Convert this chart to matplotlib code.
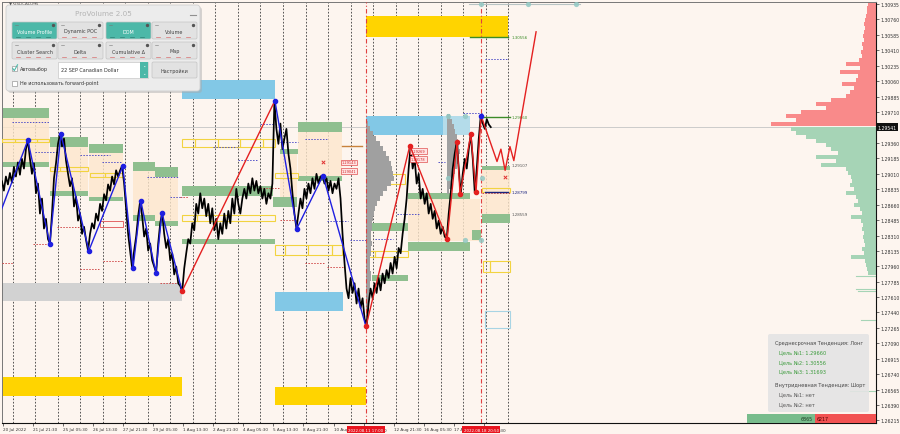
import numpy as np
import matplotlib.pyplot as plt
from matplotlib.patches import Rectangle, FancyBboxPatch

plt.rcParams['font.family'] = ['DejaVu Sans']

# x axis: one unit = one time label step (32 trading hours); y axis: USDCAD price
# labels partly hidden behind the red cursor boxes keep only their visible part
time_labels = ['20 Jul 2022', '21 Jul 21:30', '25 Jul 05:30', '26 Jul 13:30', '27 Jul 21:30',
               '29 Jul 05:30', '1 Aug 13:30', '2 Aug 21:30', '4 Aug 05:30', '5 Aug 13:30',
               '8 Aug 21:30', '10 Aug', '', '12 Aug 21:30', '16 Aug 05:30',
               '17 A', '']
label_tails = [(12.68, '0'), (16.52, ':30')]
marked_times = [(12.08, '2022.08.11 17:00'), (15.91, '2022.08.18 20:50')]
price_ticks = [1.30935, 1.30760, 1.30585, 1.30410, 1.30235, 1.30060, 1.29885, 1.29710,
               1.29360, 1.29185, 1.29010, 1.28835, 1.28660, 1.28485, 1.28310, 1.28135,
               1.27960, 1.27785, 1.27610, 1.27440, 1.27265, 1.27090, 1.26915, 1.26740,
               1.26565, 1.26390, 1.26215]
last_price = 1.29541

# closes, one every 1/15 of a label step starting at -0.1
path_price = [
    1.2884, 1.2893, 1.2882, 1.2898, 1.2889, 1.2902, 1.2891, 1.2909, 1.2898, 1.2914,
    1.2900, 1.2918, 1.2907, 1.2929, 1.2939, 1.2918, 1.2901, 1.2913, 1.2879, 1.2890,
    1.2856, 1.2873, 1.2839, 1.2850, 1.2827, 1.2822, 1.2856, 1.2896, 1.2913, 1.2935,
    1.2946, 1.2932, 1.2941, 1.2916, 1.2901, 1.2887, 1.2896, 1.2864, 1.2875, 1.2848,
    1.2856, 1.2833, 1.2841, 1.2826, 1.2814, 1.2833, 1.2845, 1.2839, 1.2856, 1.2848,
    1.2867, 1.2859, 1.2878, 1.2871, 1.2889, 1.2882, 1.2898, 1.2889, 1.2905, 1.2898,
    1.2905, 1.2910, 1.2890, 1.2862, 1.2833, 1.2814, 1.2794, 1.2814, 1.2830, 1.2853,
    1.2870, 1.2853, 1.2830, 1.2839, 1.2814, 1.2822, 1.2803, 1.2796, 1.2789, 1.2822,
    1.2845, 1.2857, 1.2833, 1.2817, 1.2827, 1.2803, 1.2811, 1.2787, 1.2796, 1.2777,
    1.2774, 1.2768, 1.2794, 1.2811, 1.2827, 1.2822, 1.2845, 1.2837, 1.2867, 1.2856,
    1.2879, 1.2862, 1.2873, 1.2853, 1.2867, 1.2845, 1.2862, 1.2837, 1.2850, 1.2827,
    1.2845, 1.2833, 1.2856, 1.2839, 1.2859, 1.2845, 1.2873, 1.2856, 1.2884, 1.2867,
    1.2856, 1.2873, 1.2884, 1.2873, 1.2890, 1.2879, 1.2896, 1.2882, 1.2893, 1.2879,
    1.2887, 1.2873, 1.2884, 1.2867, 1.2879, 1.2873, 1.2890, 1.2984, 1.2952, 1.2935,
    1.2958, 1.2929, 1.2941, 1.2952, 1.2924, 1.2907, 1.2879, 1.2856, 1.2839, 1.2856,
    1.2873, 1.2862, 1.2884, 1.2873, 1.2890, 1.2879, 1.2896, 1.2884, 1.2901, 1.2890,
    1.2898, 1.2899, 1.2890, 1.2896, 1.2882, 1.2893, 1.2879, 1.2890, 1.2884, 1.2896,
    1.2873, 1.2833, 1.2800, 1.2771, 1.2760, 1.2783, 1.2766, 1.2777, 1.2754, 1.2771,
    1.2749, 1.2760, 1.2737, 1.2728, 1.2754, 1.2771, 1.2760, 1.2777, 1.2766, 1.2783,
    1.2769, 1.2788, 1.2777, 1.2792, 1.2783, 1.2800, 1.2788, 1.2807, 1.2794, 1.2817,
    1.2811, 1.2833, 1.2850, 1.2873, 1.2907, 1.2933, 1.2907, 1.2918, 1.2890, 1.2901,
    1.2873, 1.2884, 1.2867, 1.2879, 1.2856, 1.2867, 1.2850, 1.2859, 1.2839, 1.2848,
    1.2833, 1.2841, 1.2830, 1.2827, 1.2856, 1.2879, 1.2907, 1.2924, 1.2937, 1.2907,
    1.2878, 1.2901, 1.2918, 1.2907, 1.2929, 1.2946, 1.2918, 1.2880, 1.2907, 1.2941,
    1.2967, 1.2958, 1.2952, 1.2963, 1.2957, 1.2954]

# zigzag swings
blue_zz_x = [-0.10, 0.83, 1.56, 1.93, 2.86, 3.99, 4.33, 4.59, 5.09, 5.29, 5.96]
blue_zz_p = [1.2856, 1.2939, 1.2822, 1.2946, 1.2814, 1.2910, 1.2794, 1.2870, 1.2789, 1.2857, 1.2768]
blue2_x = [9.05, 9.78, 10.65, 12.08]
blue2_p = [1.2984, 1.2839, 1.2899, 1.2728]
red_zz_x = [5.96, 9.05]
red_zz_p = [1.2768, 1.2984]
red2_x = [12.08, 13.54, 14.78, 15.11, 15.21, 15.57, 15.74, 15.91]
red2_p = [1.2728, 1.2933, 1.2827, 1.2937, 1.2878, 1.2946, 1.2880, 1.2967]
forecast_x = [15.91, 16.44, 16.57, 16.71, 16.87, 17.00, 17.74]
forecast_p = [1.2967, 1.2915, 1.2929, 1.2905, 1.2932, 1.2916, 1.3062]

# zones: (x0, x1, low, high)
blue_zones = [(5.96, 9.05, 1.2986, 1.3007), (9.05, 11.31, 1.2745, 1.2767),
              (12.08, 14.65, 1.2945, 1.2967)]
pale_blue_zones = [(14.65, 15.54, 1.2945, 1.2967)]
gold_zones = [(12.08, 16.81, 1.3056, 1.3080), (-0.1, 5.96, 1.2649, 1.2671),
              (9.05, 12.08, 1.2639, 1.2659)]
gray_zones = [(-0.1, 5.96, 1.2757, 1.2777)]
green_zones = [
    (-0.03, 1.53, 1.2964, 1.2976), (-0.03, 1.53, 1.2909, 1.2915),
    (1.56, 2.83, 1.2932, 1.2943), (1.56, 2.83, 1.2876, 1.2882),
    (2.86, 3.99, 1.2925, 1.2935), (2.86, 3.99, 1.2870, 1.2875),
    (4.33, 5.06, 1.2904, 1.2915), (5.06, 5.82, 1.2898, 1.2909),
    (4.33, 5.06, 1.2848, 1.2854), (5.06, 5.82, 1.2842, 1.2848),
    (5.96, 8.98, 1.2876, 1.2887), (5.96, 9.05, 1.2821, 1.2827),
    (8.98, 9.78, 1.2864, 1.2875), (9.22, 9.82, 1.2924, 1.2929),
    (9.82, 11.28, 1.2949, 1.2960), (9.82, 11.28, 1.2893, 1.2899),
    (12.11, 13.48, 1.2836, 1.2845), (12.28, 13.48, 1.2780, 1.2786),
    (13.48, 15.54, 1.2873, 1.2879), (13.48, 15.54, 1.2814, 1.2824),
    (15.61, 15.91, 1.2826, 1.2837), (15.94, 16.87, 1.2905, 1.2910),
    (15.94, 16.87, 1.2845, 1.2856)]
peach_zones = [
    (-0.03, 1.53, 1.2915, 1.2964), (1.56, 2.83, 1.2882, 1.2932),
    (2.86, 3.99, 1.2875, 1.2925), (4.33, 5.82, 1.2848, 1.2904),
    (9.22, 9.78, 1.2875, 1.2924), (9.82, 11.28, 1.2899, 1.2949),
    (13.48, 15.87, 1.2825, 1.2873), (15.94, 16.87, 1.2856, 1.2905)]
gold_cells = [
    (-0.03, 0.40, 1.2937, 1.2941), (0.40, 1.13, 1.2937, 1.2941), (1.13, 1.53, 1.2937, 1.2941),
    (1.56, 1.90, 1.2904, 1.2909), (1.90, 2.83, 1.2904, 1.2909),
    (2.90, 3.39, 1.2897, 1.2902), (3.39, 3.99, 1.2897, 1.2902),
    (5.96, 6.39, 1.2931, 1.2941), (6.39, 7.15, 1.2931, 1.2941), (7.15, 7.89, 1.2931, 1.2941),
    (7.89, 8.65, 1.2931, 1.2941), (8.65, 9.05, 1.2931, 1.2941),
    (5.96, 6.46, 1.2847, 1.2854), (6.46, 9.05, 1.2847, 1.2854),
    (9.05, 9.82, 1.2896, 1.2902),
    (9.05, 9.38, 1.2809, 1.2820), (9.38, 10.15, 1.2809, 1.2820), (10.15, 10.95, 1.2809, 1.2820),
    (10.95, 11.28, 1.2809, 1.2820),
    (12.11, 12.38, 1.2807, 1.2814), (12.38, 13.48, 1.2807, 1.2814),
    (12.38, 13.38, 1.2890, 1.2901),
    (15.94, 16.87, 1.2881, 1.2885),
    (15.97, 16.21, 1.2790, 1.2802), (16.21, 16.87, 1.2790, 1.2802)]
blue_cells = [(16.04, 16.87, 1.2726, 1.2746)]
red_cells = [(3.23, 3.99, 1.2841, 1.2847)]

# short dotted levels: (x0, x1, price)
blue_levels = [
    (0.30, 1.53, 1.2960), (1.06, 1.80, 1.2926), (2.56, 3.56, 1.2922), (3.29, 3.96, 1.2915),
    (4.79, 5.82, 1.2897), (5.56, 5.96, 1.2875), (7.82, 8.49, 1.2917), (6.99, 7.79, 1.2932),
    (8.55, 9.05, 1.2958), (9.22, 9.82, 1.2937), (10.05, 10.78, 1.2941), (10.78, 11.48, 1.2848),
    (11.55, 12.21, 1.2826), (12.38, 12.98, 1.2827), (13.11, 13.88, 1.2856), (14.48, 14.71, 1.2915),
    (15.31, 15.94, 1.2970), (16.04, 16.77, 1.3031)]
red_levels = [
    (1.00, 1.56, 1.2821), (1.80, 2.56, 1.2841), (3.33, 3.96, 1.2802), (2.56, 3.23, 1.2793),
    (-0.03, 0.33, 1.2800), (5.22, 5.82, 1.2777), (8.55, 9.22, 1.2885), (9.22, 9.78, 1.2849),
    (5.89, 6.16, 1.2875), (10.05, 10.72, 1.2800), (10.78, 11.31, 1.2795), (15.94, 16.87, 1.2879)]

target_lines = [(15.54, 16.81, 1.30556, '#3c8c28'), (15.91, 16.87, 1.29660, '#3c8c28'),
                (16.04, 16.81, 1.28799, '#1a237e'), (11.28, 11.95, 1.2933, '#c8823c')]
level_tags = [('1.30556', 1.30556, '#3c8c28'), ('1.29660', 1.29660, '#3c8c28'),
              ('1.29107', 1.29107, '#555555'), ('1.28799', 1.28799, '#1a237e'),
              ('1.28559', 1.28559, '#555555')]
red_tags = [(11.28, 1.2914, '1.29143'), (11.28, 1.2904, '1.29041'),
            (13.58, 1.2927, '1.29269'), (13.58, 1.2918, '1.29178')]
teal_x = [15.91, 17.47, 19.07, 14.81, 15.37, 14.81, 15.94, 15.37, 15.91]
teal_p = [1.3093, 1.3093, 1.3093, 1.2967, 1.2967, 1.2896, 1.2896, 1.2826, 1.2826]
cross_x = [10.65, 16.71]
cross_p = [1.2915, 1.2898]

# right-hand market profile (widths in profile units)
sell_profile = [8, 9, 9, 10, 11, 12, 11, 12, 13, 12, 14, 13, 15, 14, 17, 30, 16, 36, 18, 20,
                34, 22, 26, 30, 45, 60, 50, 75, 90, 80, 105]
buy_profile = [85, 80, 70, 60, 50, 45, 38, 60, 40, 55, 30, 28, 25, 24, 26, 22, 30, 20, 18, 22,
               16, 14, 25, 15, 13, 14, 12, 13, 12, 11, 14, 12, 25, 11, 10, 9, 8]
buy_lines_p = [1.2785, 1.2771, 1.2768, 1.2735, 1.2655]
buy_lines_w = [20, 20, 18, 15, 26]
# session volume profiles
prof_a = [2, 4, 7, 10, 14, 17, 20, 23, 25, 26, 27, 28, 25, 21, 17, 14, 11, 9, 8, 7, 6, 6, 5, 5,
          6, 5, 5, 4, 4, 4, 5, 5, 4, 4, 3, 3, 3, 3, 2, 2, 1]
prof_b = [3, 5, 7, 8, 10, 11, 12, 13, 12, 11, 10, 8, 7, 5, 4, 2]

trend_lines = [('Среднесрочная Тенденция: Лонг', '#444444'), ('Цель №1: 1.29660', '#3a9a3a'),
               ('Цель №2: 1.30556', '#3a9a3a'), ('Цель №3: 1.31693', '#3a9a3a'),
               ('Внутридневная Тенденция: Шорт', '#444444'), ('Цель №1: нет', '#555555'),
               ('Цель №2: нет', '#555555')]
buy_total = 6865
sell_total = 6217

bg = '#fdf5ef'
fig = plt.figure(figsize=(9, 4.35), dpi=100, facecolor=bg)
ax = fig.add_axes([2 / 900, 11 / 435, 874 / 900, 421 / 435], facecolor=bg)
xmax = 29.05
ax.set_xlim(-0.03, xmax)
ax.set_ylim(1.26186, 1.30958)


def zone(x0, x1, lo, hi, **kw):
    ax.add_patch(Rectangle((x0, lo), x1 - x0, hi - lo, **kw))


# day separators
for gx in 0.32 + 0.75 * np.arange(23):
    ax.axvline(gx, color='#3a3a3a', lw=0.6, ls=(0, (2, 2)), zorder=0.5)
ax.axhline(last_price, color='#c4c4c4', lw=0.6, zorder=0.6)

for z in peach_zones:
    zone(*z, fc='#fde7cc', ec='none', alpha=0.8, zorder=1)
for z in green_zones:
    zone(*z, fc='#8fbf8f', ec='none', zorder=2)
for z in blue_zones:
    zone(*z, fc='#82c8e6', ec='none', zorder=2)
for z in pale_blue_zones:
    zone(*z, fc='#b4dcea', ec='none', zorder=2)
for z in gold_zones:
    zone(*z, fc='#ffd400', ec='none', zorder=2)
for z in gray_zones:
    zone(*z, fc='#d2d2d2', ec='none', zorder=2)
for z in gold_cells:
    zone(*z, fc='none', ec='#f2d340', lw=0.8, zorder=3)
for z in blue_cells:
    zone(*z, fc='none', ec='#a8d4e4', lw=0.8, zorder=3)
for z in red_cells:
    zone(*z, fc='none', ec='#e05050', lw=0.6, zorder=3)
for x0, x1, p in blue_levels:
    ax.plot([x0, x1], [p, p], color='#5050c8', lw=0.7, ls=(0, (1.5, 1.5)), zorder=3)
for x0, x1, p in red_levels:
    ax.plot([x0, x1], [p, p], color='#d04848', lw=0.7, ls=(0, (1.5, 1.5)), zorder=3)

# session profiles
step5 = 0.000567
lev_a = 1.2958 - step5 * np.arange(len(prof_a))
ax.barh(lev_a, np.array(prof_a) / 30.05, left=12.08, height=step5, color='#a0a0a0',
        edgecolor='none', zorder=3)
lev_b = 1.2966 - step5 * np.arange(len(prof_b))
ax.barh(lev_b, np.array(prof_b) / 30.05, left=14.78, height=step5, color='#a0a0a0',
        edgecolor='none', zorder=3)

# right market profile
step4 = 0.000453
lev_s = 1.3093 - step4 * np.arange(len(sell_profile))
ws = np.array(sell_profile) / 30.05
ax.barh(lev_s, ws, left=xmax - ws, height=step4, color='#f98a8a', edgecolor='none', zorder=2)
lev_g = 1.2952 - step4 * np.arange(len(buy_profile))
wg = np.array(buy_profile) / 30.05
ax.barh(lev_g, wg, left=xmax - wg, height=step4, color='#a6d4b6', edgecolor='none', zorder=2)
for p, w in zip(buy_lines_p, buy_lines_w):
    ax.plot([xmax - w / 30.05, xmax], [p, p], color='#a6d4b6', lw=0.8, zorder=2)

# price
path_x = -0.1 + np.arange(len(path_price)) / 15
ax.plot(path_x, path_price, color='black', lw=1.25, zorder=5)

for x0, x1, p, c in target_lines:
    ax.plot([x0, x1], [p, p], color=c, lw=1.0, zorder=4)
for t, p, c in level_tags:
    ax.text(16.92, p, t, fontsize=2.9, color=c, va='center', ha='left', zorder=6)
for x, p, t in red_tags:
    ax.text(x, p, t, fontsize=2.5, color='#d02020', va='center', ha='left', zorder=6,
            bbox=dict(boxstyle='square,pad=0.25', fc='#ffe4e4', ec='#e05050', lw=0.5))

ax.plot([15.5, 19.2], [1.3093, 1.3093], color='#b8c4c4', lw=0.8, zorder=3)
ax.scatter(teal_x, teal_p, s=14, color='#92c9c4', alpha=0.85, zorder=6, linewidths=0)
ax.scatter(cross_x, cross_p, s=6, marker='x', color='#e03030', linewidths=0.7, zorder=6)

# zigzags
ax.plot(blue_zz_x, blue_zz_p, color='#1f1fe0', lw=1.0, zorder=6)
ax.plot(blue2_x, blue2_p, color='#1f1fe0', lw=1.0, zorder=6)
ax.plot(red_zz_x, red_zz_p, color='#e42020', lw=1.0, zorder=6)
ax.plot(red2_x, red2_p, color='#e42020', lw=1.0, zorder=6)
ax.plot(forecast_x, forecast_p, color='#e42020', lw=1.0, zorder=6)
ax.scatter(blue_zz_x[1:-1] + blue2_x[:-1] + [red2_x[-1]],
           blue_zz_p[1:-1] + blue2_p[:-1] + [red2_p[-1]], s=9, color='#1f1fe0', zorder=7)
ax.scatter([blue_zz_x[-1]] + red2_x[:-1], [blue_zz_p[-1]] + red2_p[:-1], s=9,
           color='#e42020', zorder=7)

# axes styling
ax.yaxis.tick_right()
ax.set_yticks(price_ticks)
ax.set_yticklabels(['%.5f' % p for p in price_ticks])
ax.set_xticks(np.arange(len(time_labels)))
ax.set_xticklabels(time_labels, ha='left')
ax.tick_params(axis='y', labelsize=3.3, length=2, width=0.5, pad=1.2, colors='#333333')
ax.tick_params(axis='x', labelsize=3.0, length=2, width=0.5, pad=1.2, colors='#333333')
for s in ['left', 'top']:
    ax.spines[s].set_color('#777777')
    ax.spines[s].set_linewidth(0.7)
for s in ['right', 'bottom']:
    ax.spines[s].set_color('#111111')
    ax.spines[s].set_linewidth(0.8)
for x, t in label_tails:
    ax.text(x, -0.0115, t, transform=ax.get_xaxis_transform(), ha='left', va='top',
            fontsize=3.0, color='#333333', clip_on=False)
for x, t in marked_times:
    ax.axvline(x, color='#e04040', lw=0.8, ls=(0, (4, 2, 1, 2)), zorder=4)
    ax.text(x, -0.011, t, transform=ax.get_xaxis_transform(), ha='center', va='top',
            fontsize=2.9, color='white', zorder=20, clip_on=False,
            bbox=dict(boxstyle='square,pad=0.3', fc='#e8141e', ec='none'))
ax.text(1.002, last_price, '%.5f' % last_price, transform=ax.get_yaxis_transform(),
        fontsize=3.3, color='white', va='center', ha='left', zorder=20, clip_on=False,
        bbox=dict(boxstyle='square,pad=0.3', fc='#111111', ec='none'))

# overlay: indicator panel and info box, in pixels
ui = fig.add_axes([0, 0, 1, 1], zorder=10)
ui.set_xlim(0, 900)
ui.set_ylim(435, 0)
ui.axis('off')
ui.patch.set_alpha(0)
ui.text(9, 3.2, '▼ USDCAD,M5', fontsize=3.0, color='#555555', va='center')
ui.add_patch(FancyBboxPatch((8, 8), 194, 86, boxstyle='round,pad=0,rounding_size=3',
                            fc='#a8a8a8', ec='none', alpha=0.45))
ui.add_patch(FancyBboxPatch((6, 6), 194, 86, boxstyle='round,pad=0,rounding_size=3',
                            fc='#ececec', ec='#cfcfcf', lw=0.6))
ui.text(103, 13.5, 'ProVolume 2.05', ha='center', va='center', fontsize=5.2, color='#b4b4b4')
ui.plot([190, 196], [16, 16], color='#909090', lw=0.8)

teal = '#4cb8a8'
buttons = [('Volume Profile', 12, 23, True), ('Dynamic POC', 58, 23, False),
           ('DOM', 106, 23, True), ('Volume', 152, 23, False),
           ('Cluster Search', 12, 43, False), ('Delta', 58, 43, False),
           ('Cumulative Δ', 106, 43, False), ('Map', 152, 43, False)]
for label, bx, by, on in buttons:
    ui.add_patch(FancyBboxPatch((bx, by), 45, 17, boxstyle='round,pad=0,rounding_size=1.5',
                                fc=teal if on else '#e2e2e2', ec='#c4c4c4', lw=0.5))
    ui.text(bx + 22.5, by + 9, label, ha='center', va='center', fontsize=3.5,
            color='white' if on else '#404040')
    ui.scatter([bx + 41], [by + 2.6], s=2, color='#555555', zorder=3)
    ui.plot([bx + 3, bx + 6], [by + 2.6, by + 2.6], color='#777777', lw=0.4)
    for k in range(4):
        ui.plot([bx + 4 + 10 * k, bx + 8 + 10 * k], [by + 15, by + 15],
                color='#2e7f74' if on else '#d87070', lw=0.5)

ui.add_patch(Rectangle((12, 67), 5, 5, fc='white', ec='#9a9a9a', lw=0.5))
ui.plot([12.8, 14.3, 17.5], [69.5, 71.6, 65.8], color=teal, lw=0.8)
ui.text(20, 70, 'Автовыбор', fontsize=3.5, va='center', color='#333333')
ui.add_patch(Rectangle((58, 63), 90, 16, fc='white', ec='#c8c8c8', lw=0.5))
ui.add_patch(Rectangle((140, 63), 8, 16, fc=teal, ec='none'))
ui.text(144, 68, '⌃', fontsize=3.0, color='white', ha='center', va='center')
ui.text(144, 74, '⌄', fontsize=3.0, color='white', ha='center', va='center')
ui.text(61, 71, '22 SEP Canadian Dollar', fontsize=3.5, va='center', color='#333333')
ui.add_patch(FancyBboxPatch((152, 63), 45, 16, boxstyle='round,pad=0,rounding_size=1.5',
                            fc='#e2e2e2', ec='#c4c4c4', lw=0.5))
ui.text(174.5, 71, 'Настройки', fontsize=3.5, ha='center', va='center', color='#404040')
ui.add_patch(Rectangle((12, 81.5), 5, 5, fc='white', ec='#9a9a9a', lw=0.5))
ui.text(20, 84, 'Не использовать forward-point', fontsize=3.5, va='center', color='#333333')

# trend info box
ui.add_patch(FancyBboxPatch((768, 335), 101, 78, boxstyle='round,pad=0,rounding_size=2',
                            fc='#e4e4e4', ec='none', alpha=0.9))
rows_y = [344, 353, 363, 372, 386, 395, 405]
for (t, c), yy in zip(trend_lines, rows_y):
    indent = 775 if 'Тенденция' in t else 779
    ui.text(indent, yy, t, fontsize=3.6, color=c, va='center')

# buy/sell balance bar
bar_x0, bar_x1 = 747, 876
split = bar_x0 + (bar_x1 - bar_x0) * buy_total / (buy_total + sell_total)
ui.add_patch(Rectangle((bar_x0, 415), split - bar_x0, 9, fc='#78bc8c', ec='none'))
ui.add_patch(Rectangle((split, 415), bar_x1 - split, 9, fc='#f25252', ec='none'))
ui.text(split - 1.5, 419.5, str(buy_total), fontsize=3.4, ha='right', va='center', color='#1d3d24')
ui.text(split + 1.5, 419.5, str(sell_total), fontsize=3.4, ha='left', va='center', color='#4a0000')

fig.savefig('out.png', dpi=100, facecolor=bg)
